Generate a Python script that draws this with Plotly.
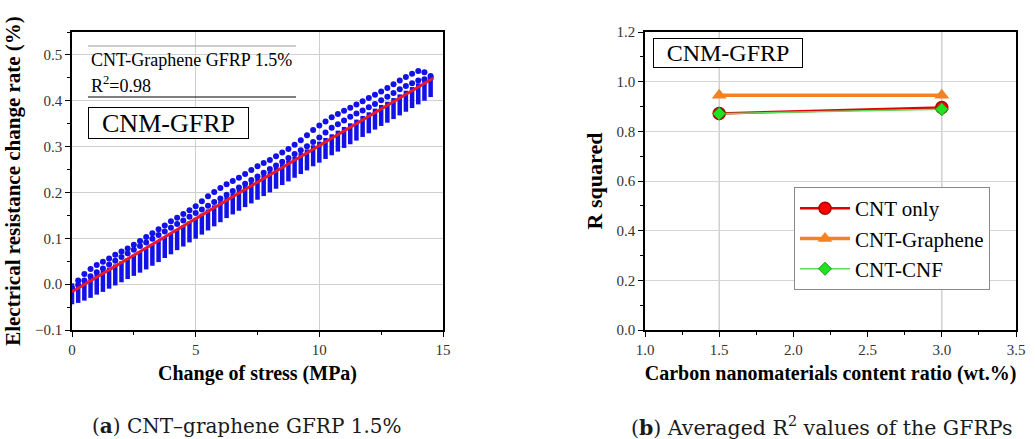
import plotly.graph_objects as go

# ---------------- Panel (a): CNT-Graphene GFRP 1.5% ----------------
stress_mpa = [0.0, 0.25, 0.5, 0.75, 1.0, 1.25, 1.5, 1.75, 2.0, 2.25, 2.5, 2.75, 3.0, 3.25, 3.5,
              3.75, 4.0, 4.25, 4.5, 4.75, 5.0, 5.25, 5.5, 5.75, 6.0, 6.25, 6.5, 6.75, 7.0, 7.25,
              7.5, 7.75, 8.0, 8.25, 8.5, 8.75, 9.0, 9.25, 9.5, 9.75, 10.0, 10.25, 10.5, 10.75,
              11.0, 11.25, 11.5, 11.75, 12.0, 12.25, 12.5, 12.75, 13.0, 13.25, 13.5, 13.75,
              14.0, 14.25, 14.5]
# upper dotted branch of the response
resist_upper = [-0.008, 0.008, 0.022, 0.033, 0.042, 0.049, 0.056, 0.064, 0.071, 0.078, 0.086,
                0.094, 0.103, 0.111, 0.120, 0.128, 0.137, 0.145, 0.153, 0.161, 0.170, 0.181,
                0.192, 0.201, 0.210, 0.218, 0.225, 0.232, 0.240, 0.249, 0.257, 0.264, 0.271,
                0.279, 0.287, 0.295, 0.304, 0.314, 0.325, 0.336, 0.346, 0.355, 0.364, 0.371,
                0.378, 0.385, 0.392, 0.399, 0.406, 0.413, 0.420, 0.428, 0.436, 0.444, 0.452,
                0.459, 0.465, 0.462, 0.454]
# middle dotted branch (just above the fit)
resist_middle = [-0.012, -0.002, 0.008, 0.017, 0.026, 0.034, 0.043, 0.051, 0.059, 0.067, 0.075,
                 0.083, 0.091, 0.099, 0.107, 0.115, 0.123, 0.131, 0.139, 0.147, 0.155, 0.163,
                 0.171, 0.179, 0.187, 0.195, 0.203, 0.211, 0.219, 0.227, 0.235, 0.243, 0.251,
                 0.259, 0.267, 0.275, 0.284, 0.292, 0.301, 0.310, 0.320, 0.331, 0.341, 0.349,
                 0.357, 0.365, 0.372, 0.379, 0.386, 0.393, 0.401, 0.409, 0.417, 0.425, 0.432,
                 0.438, 0.444, 0.447, 0.450]
# lower dense (striped) branch, centre of each stack
resist_lower = [-0.021, -0.018, -0.013, -0.007, 0.000, 0.006, 0.013, 0.020, 0.027, 0.034, 0.041,
                0.048, 0.055, 0.063, 0.071, 0.080, 0.088, 0.097, 0.105, 0.114, 0.122, 0.131,
                0.140, 0.149, 0.158, 0.167, 0.175, 0.183, 0.191, 0.199, 0.207, 0.215, 0.223,
                0.231, 0.239, 0.247, 0.255, 0.263, 0.271, 0.280, 0.288, 0.296, 0.304, 0.312,
                0.320, 0.328, 0.336, 0.344, 0.352, 0.360, 0.368, 0.375, 0.383, 0.391, 0.399,
                0.407, 0.415, 0.423, 0.431]
fit_stress = [0.0, 14.6]
fit_resist = [-0.0167, 0.449]

# ---------------- Panel (b): averaged R^2 ----------------
content_ratio = [1.5, 3.0]
r2_cnt_only = [0.872, 0.896]
r2_cnt_graphene = [0.945, 0.945]
r2_cnt_cnf = [0.871, 0.889]

SERIF = "Liberation Serif"
W, H = 1035, 439

def px(xp):
    return xp / W

def py(yp):
    return 1 - yp / H

fig = go.Figure()

blue = "#1212E8"
fig.add_trace(go.Scatter(x=stress_mpa, y=resist_lower, mode="markers", xaxis="x", yaxis="y",
                         marker=dict(symbol="line-ns", size=15, color=blue,
                                     line=dict(color=blue, width=4.5)),
                         showlegend=False))
fig.add_trace(go.Scatter(x=stress_mpa, y=resist_middle, mode="markers", xaxis="x", yaxis="y",
                         marker=dict(symbol="circle", size=6, color=blue, line=dict(width=0)),
                         showlegend=False))
fig.add_trace(go.Scatter(x=stress_mpa, y=resist_upper, mode="markers", xaxis="x", yaxis="y",
                         marker=dict(symbol="circle", size=6, color=blue, line=dict(width=0)),
                         showlegend=False))
fig.add_trace(go.Scatter(x=fit_stress, y=fit_resist, mode="lines", xaxis="x", yaxis="y",
                         line=dict(color="#E8192C", width=3), showlegend=False))

fig.add_trace(go.Scatter(x=content_ratio, y=r2_cnt_only, name="CNT only", mode="lines+markers",
                         xaxis="x2", yaxis="y2",
                         line=dict(color="#E00000", width=2.5),
                         marker=dict(symbol="circle", size=12, color="#FF0000",
                                     line=dict(color="#B00000", width=1.5))))
fig.add_trace(go.Scatter(x=content_ratio, y=r2_cnt_graphene, name="CNT-Graphene", mode="lines+markers",
                         xaxis="x2", yaxis="y2",
                         line=dict(color="#F58220", width=3.5),
                         marker=dict(symbol="triangle-up", size=13, color="#F58220")))
fig.add_trace(go.Scatter(x=content_ratio, y=r2_cnt_cnf, name="CNT-CNF", mode="lines+markers",
                         xaxis="x2", yaxis="y2",
                         line=dict(color="#5EDC5E", width=1.5),
                         marker=dict(symbol="diamond", size=10, color="#22E022",
                                     line=dict(color="#159915", width=1))))

tickfont = dict(family=SERIF, size=15, color="#333333")
titlefont = dict(family=SERIF, size=20, color="black")
common_axis = dict(showline=True, linecolor="black", linewidth=1.5, mirror=True,
                   ticks="outside", ticklen=5, tickcolor="black", tickwidth=1,
                   zeroline=False, tickfont=tickfont, automargin=False)

ydom = [py(330), py(32)]

fig.update_layout(
    width=W, height=H,
    margin=dict(l=0, r=0, t=0, b=0, autoexpand=False),
    paper_bgcolor="white", plot_bgcolor="white",
    xaxis=dict(domain=[px(72), px(443)], range=[0, 15], dtick=5, tick0=0,
               showgrid=True, gridcolor="#CFCFCF", gridwidth=1,
               minor=dict(dtick=2.5, ticks="outside", ticklen=3, tickcolor="black", showgrid=False),
               title=dict(text="<b>Change of stress (MPa)</b>", font=titlefont, standoff=9),
               anchor="y", **common_axis),
    yaxis=dict(domain=ydom, range=[-0.1, 0.55], dtick=0.1, tick0=0, tickformat=".1f",
               showgrid=True, gridcolor="#CFCFCF", gridwidth=1,
               minor=dict(dtick=0.05, ticks="outside", ticklen=3, tickcolor="black", showgrid=False),
               title=dict(text="<b>Electrical resistance change rate (%)</b>",
                          font=dict(family=SERIF, size=21, color="black"), standoff=9),
               anchor="x", **common_axis),
    xaxis2=dict(domain=[px(645), px(1016)], range=[1.0, 3.5], dtick=0.5, tick0=0, tickformat=".1f",
                showgrid=False,
                minor=dict(dtick=0.25, ticks="outside", ticklen=3, tickcolor="black", showgrid=False),
                title=dict(text="<b>Carbon nanomaterials content ratio (wt.%)</b>", font=titlefont, standoff=9),
                anchor="y2", **common_axis),
    yaxis2=dict(domain=ydom, range=[0, 1.2], dtick=0.2, tick0=0, tickformat=".1f",
                showgrid=True, gridcolor="#D5D5D5", gridwidth=1,
                minor=dict(dtick=0.1, ticks="outside", ticklen=3, tickcolor="black", showgrid=False),
                title=dict(text="<b>R squared</b>", font=dict(family=SERIF, size=22, color="black"), standoff=8),
                anchor="x2", **common_axis),
    legend=dict(x=px(794), y=py(187), xanchor="left", yanchor="top",
                bgcolor="white", bordercolor="#8A8A8A", borderwidth=1, itemwidth=50,
                font=dict(family=SERIF, size=21, color="black"), tracegroupgap=0),
)

# vertical gridlines of panel (b) at the measured content ratios
for c in content_ratio:
    fig.add_shape(type="line", xref="x2", yref="y2 domain", x0=c, x1=c, y0=0, y1=1,
                  line=dict(color="#D0D0D0", width=1.5), layer="below")

# panel (a) label block
fig.add_shape(type="line", xref="paper", yref="paper", x0=px(88), x1=px(296), y0=py(46), y1=py(46),
              line=dict(color="#9A9A9A", width=1))
fig.add_shape(type="line", xref="paper", yref="paper", x0=px(88), x1=px(296), y0=py(97), y1=py(97),
              line=dict(color="black", width=1))
fig.add_annotation(xref="paper", yref="paper", x=px(89), y=py(60), xanchor="left", yanchor="middle",
                   text="CNT-Graphene GFRP 1.5%", showarrow=False,
                   font=dict(family=SERIF, size=18, color="black"))
fig.add_annotation(xref="paper", yref="paper", x=px(89), y=py(84), xanchor="left", yanchor="middle",
                   text="R<sup>2</sup>=0.98", showarrow=False,
                   font=dict(family=SERIF, size=18, color="black"))
fig.add_annotation(xref="paper", yref="paper", x=px(88), y=py(107), xanchor="left", yanchor="top",
                   text="CNM-GFRP", showarrow=False, width=155, height=26, borderpad=2,
                   bordercolor="black", borderwidth=1, bgcolor="white", align="center",
                   font=dict(family=SERIF, size=26, color="black"))
fig.add_annotation(xref="paper", yref="paper", x=px(653), y=py(38), xanchor="left", yanchor="top",
                   text="CNM-GFRP", showarrow=False, width=144, height=24, borderpad=2,
                   bordercolor="black", borderwidth=1, bgcolor="white", align="center",
                   font=dict(family=SERIF, size=24, color="black"))

# captions
CAP = "DejaVu Serif"
fig.add_annotation(xref="paper", yref="paper", x=px(247), y=py(426), xanchor="center", yanchor="middle",
                   text="(<b>a</b>) CNT–graphene GFRP 1.5%", showarrow=False,
                   font=dict(family=CAP, size=20, color="#1a1a1a"))
fig.add_annotation(xref="paper", yref="paper", x=px(822), y=py(426), xanchor="center", yanchor="middle",
                   text="(<b>b</b>) Averaged R<sup>2</sup> values of the GFRPs", showarrow=False,
                   font=dict(family=CAP, size=20.5, color="#1a1a1a"))

fig.write_html("out.html")
